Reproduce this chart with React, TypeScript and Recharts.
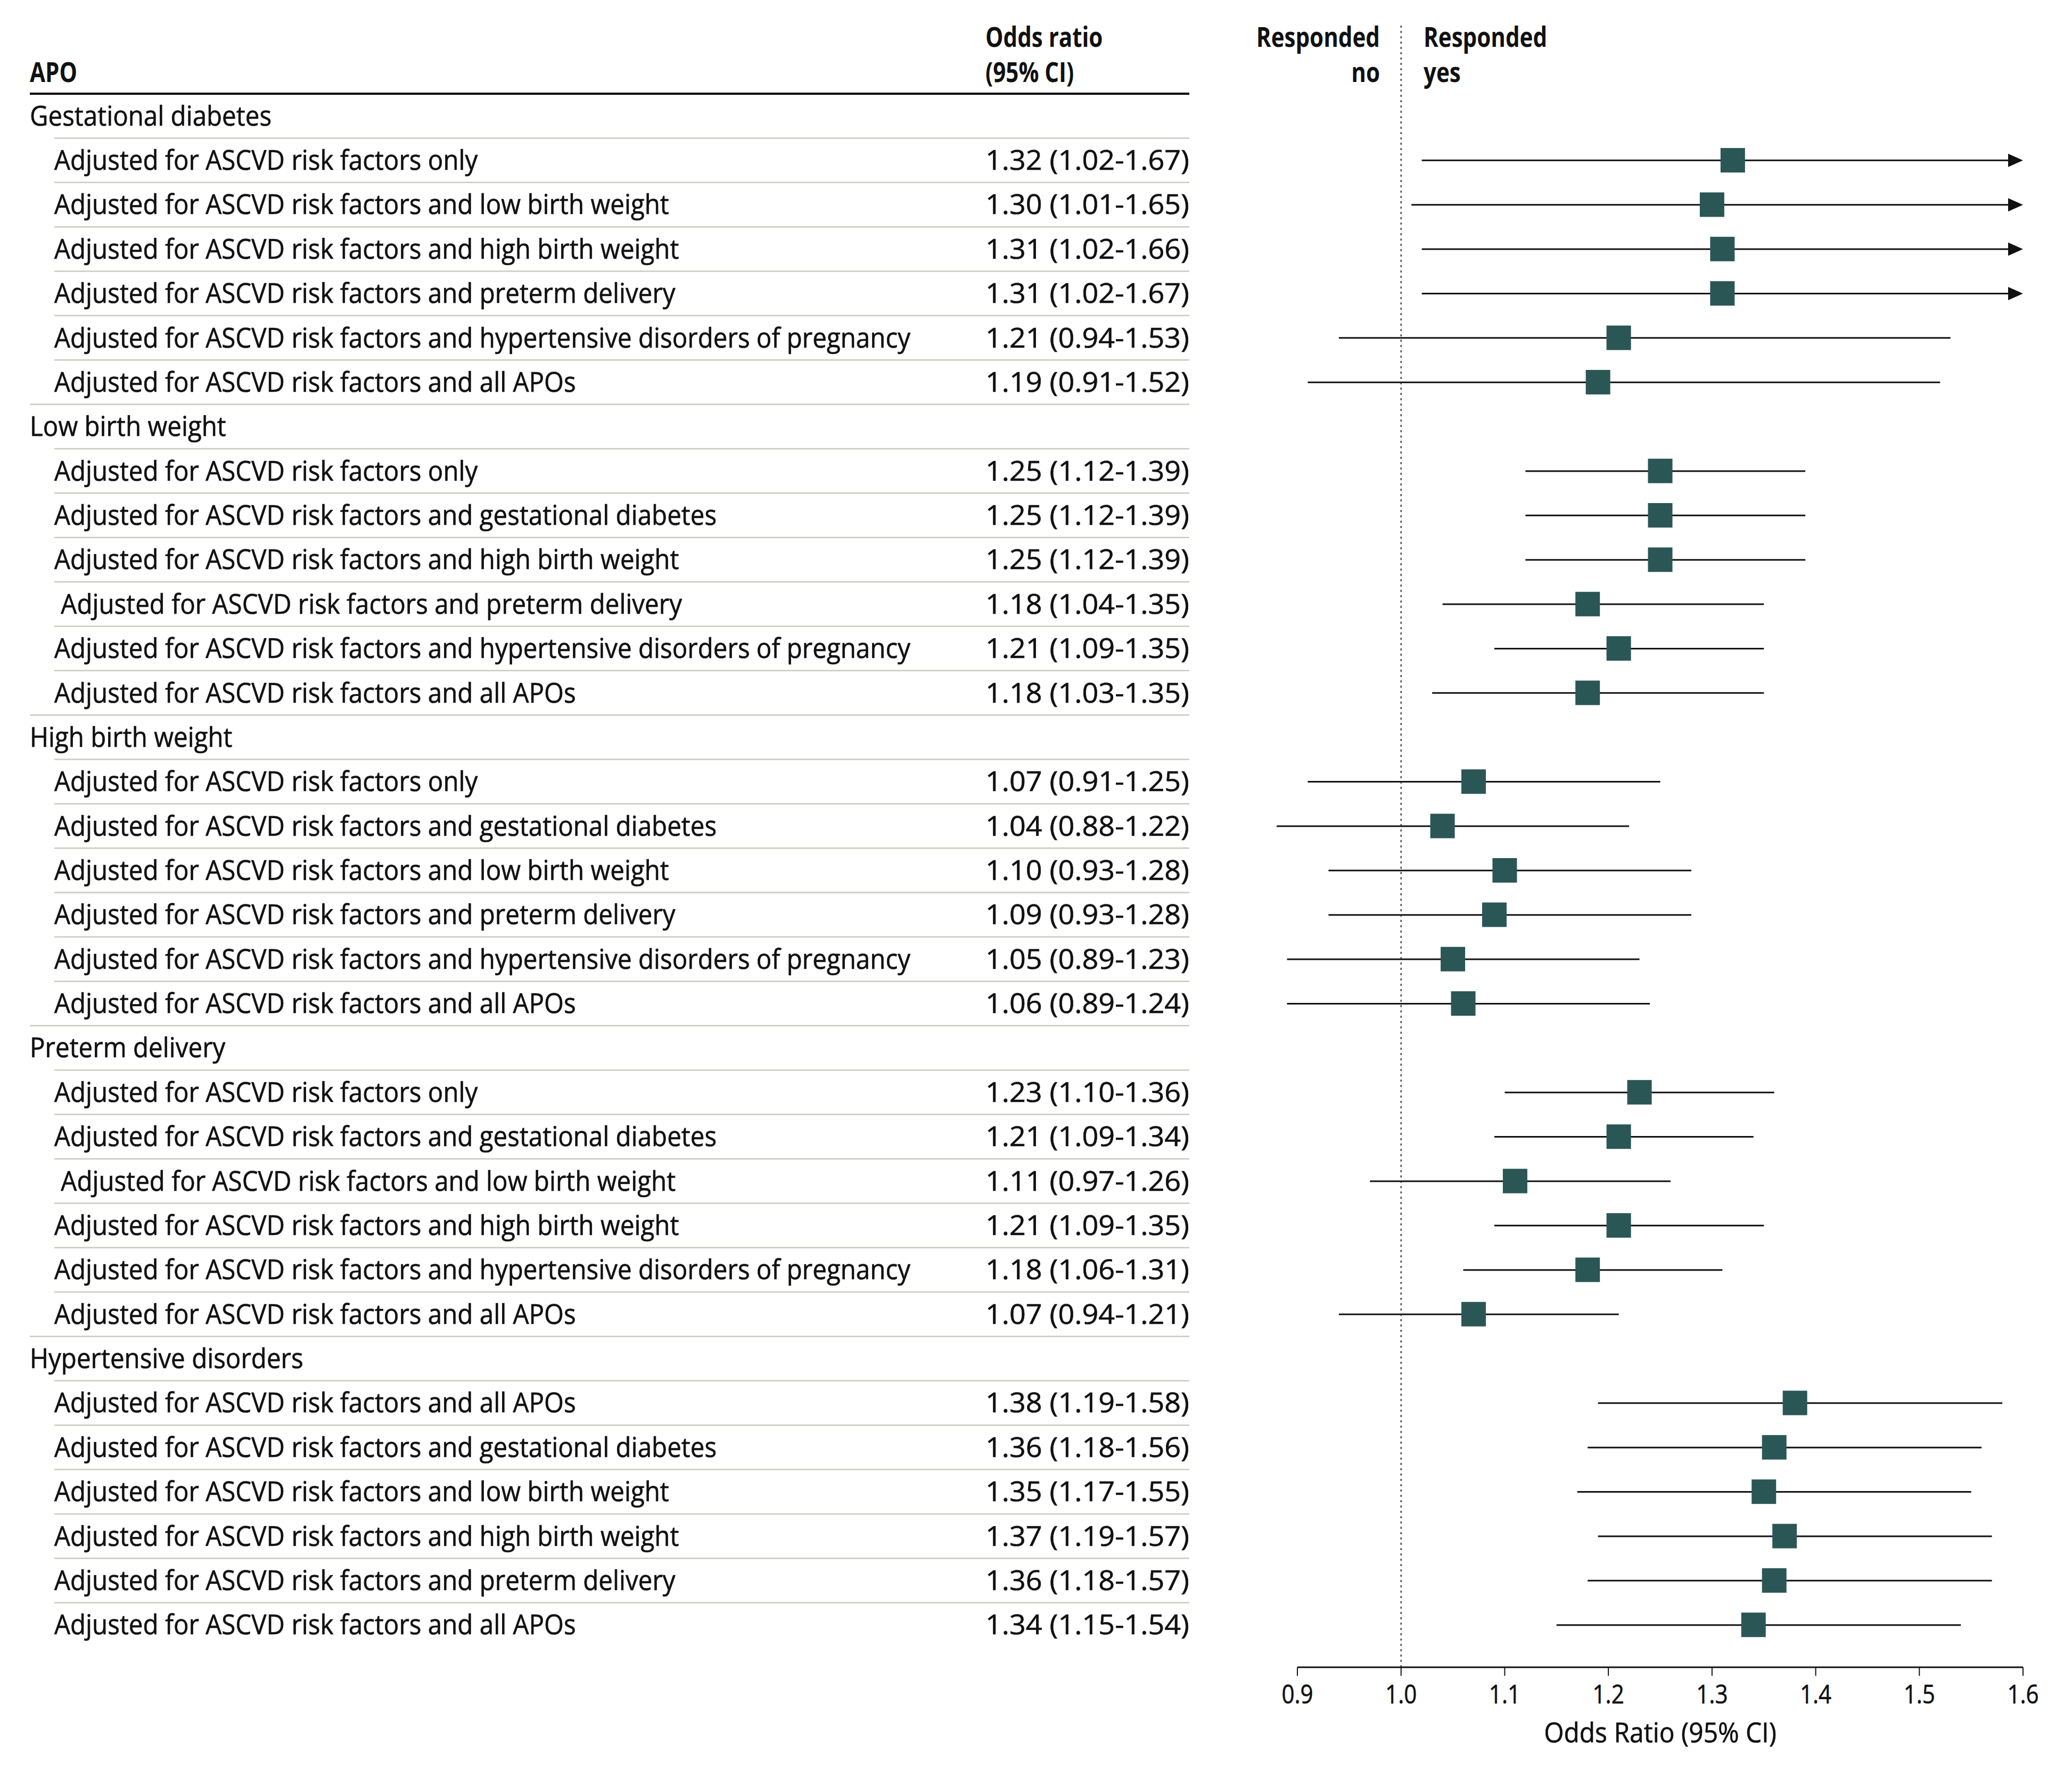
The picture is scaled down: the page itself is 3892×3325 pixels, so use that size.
import { Bar, ComposedChart, ReferenceLine, Scatter, XAxis, YAxis } from "recharts";

const groupNames = [
  "Gestational diabetes",
  "Low birth weight",
  "High birth weight",
  "Preterm delivery",
  "Hypertensive disorders",
];

const rowLabels: string[][] = [
  [
    "Adjusted for ASCVD risk factors only",
    "Adjusted for ASCVD risk factors and low birth weight",
    "Adjusted for ASCVD risk factors and high birth weight",
    "Adjusted for ASCVD risk factors and preterm delivery",
    "Adjusted for ASCVD risk factors and hypertensive disorders of pregnancy",
    "Adjusted for ASCVD risk factors and all APOs",
  ],
  [
    "Adjusted for ASCVD risk factors only",
    "Adjusted for ASCVD risk factors and gestational diabetes",
    "Adjusted for ASCVD risk factors and high birth weight",
    " Adjusted for ASCVD risk factors and preterm delivery",
    "Adjusted for ASCVD risk factors and hypertensive disorders of pregnancy",
    "Adjusted for ASCVD risk factors and all APOs",
  ],
  [
    "Adjusted for ASCVD risk factors only",
    "Adjusted for ASCVD risk factors and gestational diabetes",
    "Adjusted for ASCVD risk factors and low birth weight",
    "Adjusted for ASCVD risk factors and preterm delivery",
    "Adjusted for ASCVD risk factors and hypertensive disorders of pregnancy",
    "Adjusted for ASCVD risk factors and all APOs",
  ],
  [
    "Adjusted for ASCVD risk factors only",
    "Adjusted for ASCVD risk factors and gestational diabetes",
    " Adjusted for ASCVD risk factors and low birth weight",
    "Adjusted for ASCVD risk factors and high birth weight",
    "Adjusted for ASCVD risk factors and hypertensive disorders of pregnancy",
    "Adjusted for ASCVD risk factors and all APOs",
  ],
  [
    "Adjusted for ASCVD risk factors and all APOs",
    "Adjusted for ASCVD risk factors and gestational diabetes",
    "Adjusted for ASCVD risk factors and low birth weight",
    "Adjusted for ASCVD risk factors and high birth weight",
    "Adjusted for ASCVD risk factors and preterm delivery",
    "Adjusted for ASCVD risk factors and all APOs",
  ],
];

const oddsRatios: number[][] = [
  [1.32, 1.3, 1.31, 1.31, 1.21, 1.19],
  [1.25, 1.25, 1.25, 1.18, 1.21, 1.18],
  [1.07, 1.04, 1.1, 1.09, 1.05, 1.06],
  [1.23, 1.21, 1.11, 1.21, 1.18, 1.07],
  [1.38, 1.36, 1.35, 1.37, 1.36, 1.34],
];

const lowerCI: number[][] = [
  [1.02, 1.01, 1.02, 1.02, 0.94, 0.91],
  [1.12, 1.12, 1.12, 1.04, 1.09, 1.03],
  [0.91, 0.88, 0.93, 0.93, 0.89, 0.89],
  [1.1, 1.09, 0.97, 1.09, 1.06, 0.94],
  [1.19, 1.18, 1.17, 1.19, 1.18, 1.15],
];

const upperCI: number[][] = [
  [1.67, 1.65, 1.66, 1.67, 1.53, 1.52],
  [1.39, 1.39, 1.39, 1.35, 1.35, 1.35],
  [1.25, 1.22, 1.28, 1.28, 1.23, 1.24],
  [1.36, 1.34, 1.26, 1.35, 1.31, 1.21],
  [1.58, 1.56, 1.55, 1.57, 1.57, 1.54],
];

const xTicks = [0.9, 1.0, 1.1, 1.2, 1.3, 1.4, 1.5, 1.6];

const W = 3892;
const H = 3325;
const FONT = "'Open Sans', 'Noto Sans', sans-serif";
const SX = 0.914; // squeeze the face, original is a condensed font
const SX_BOLD = 0.81;
const INK = "#111";
const RULE = "#c8cbbd";
const BOX = "#2b5656";
const AXIS_MIN = xTicks[0];
const AXIS_MAX = xTicks[xTicks.length - 1];

// table columns
const GROUP_X = 56;
const ITEM_X = 102;
const OR_X = 1851;
const OR_W = 383;
const TABLE_R = 2234;
const ROW_H = 83.35;

type Row = {
  key: string;
  kind: "group" | "item";
  label: string;
  first?: boolean;
  or?: number;
  lo?: number;
  hi?: number;
};

const rows: Row[] = [];
groupNames.forEach((g, gi) => {
  rows.push({ key: `g${gi}`, kind: "group", label: g, first: gi === 0 });
  rowLabels[gi].forEach((label, ri) => {
    rows.push({
      key: `g${gi}r${ri}`,
      kind: "item",
      label,
      or: oddsRatios[gi][ri],
      lo: lowerCI[gi][ri],
      hi: upperCI[gi][ri],
    });
  });
});
const rowByKey = new Map(rows.map((r) => [r.key, r]));

const ciRange = (d: Row) =>
  d.kind === "item" ? [Math.max(d.lo!, AXIS_MIN), Math.min(d.hi!, AXIS_MAX)] : null;

function Txt({ x, y, children, bold, anchor = "start", size = 52, sx }: any) {
  const s = sx ?? (bold ? SX_BOLD : SX);
  return (
    <text
      transform={`translate(${x} ${y}) scale(${s} 1)`}
      textAnchor={anchor}
      fontFamily={FONT}
      fontSize={size}
      fontWeight={bold ? 700 : 400}
      fill={INK}
      stroke={bold ? "none" : INK}
      strokeWidth={0.7}
      xmlSpace="preserve"
    >
      {children}
    </text>
  );
}

function HeaderBlock({ top }: { top: number }) {
  return (
    <g>
      <line x1={GROUP_X} x2={TABLE_R} y1={top} y2={top} stroke="#000" strokeWidth={4} />
      <Txt x={GROUP_X} y={154} bold>APO</Txt>
      <Txt x={OR_X} y={88} bold>Odds ratio</Txt>
      <Txt x={OR_X} y={154} bold>(95% CI)</Txt>
      <Txt x={2592} y={88} bold anchor="end">Responded</Txt>
      <Txt x={2592} y={154} bold anchor="end">no</Txt>
      <Txt x={2674} y={88} bold>Responded</Txt>
      <Txt x={2674} y={154} bold>yes</Txt>
    </g>
  );
}

function RowTick(props: any) {
  const { y, payload } = props;
  const row = rowByKey.get(payload.value);
  if (!row) return null;
  const top = y - ROW_H / 2;
  const base = y + 18;
  return (
    <g>
      {row.first ? (
        <HeaderBlock top={top} />
      ) : (
        <line
          x1={row.kind === "group" ? GROUP_X : ITEM_X}
          x2={TABLE_R}
          y1={top}
          y2={top}
          stroke={RULE}
          strokeWidth={2.5}
        />
      )}
      {row.kind === "group" ? (
        <Txt x={GROUP_X} y={base}>{row.label}</Txt>
      ) : (
        <>
          <Txt x={ITEM_X} y={base}>{row.label}</Txt>
          <text
            x={OR_X}
            y={base}
            textLength={OR_W}
            lengthAdjust="spacingAndGlyphs"
            fontFamily={FONT}
            fontSize={52}
            fill={INK}
            stroke={INK}
            strokeWidth={0.7}
          >
            {`${row.or!.toFixed(2)} (${row.lo!.toFixed(2)}-${row.hi!.toFixed(2)})`}
          </text>
        </>
      )}
    </g>
  );
}

function CiShape(props: any) {
  const { x, y, width, height, payload } = props;
  if (!payload || payload.kind !== "item" || !Number.isFinite(width)) return <g />;
  const a = Math.max(payload.lo, AXIS_MIN);
  const b = Math.min(payload.hi, AXIS_MAX);
  const ppu = width / (b - a);
  const x1 = x - (a - payload.lo) * ppu;
  const x2 = x + width;
  const cy = y + height / 2;
  const clipped = payload.hi > AXIS_MAX;
  return (
    <g>
      <line x1={x1} x2={clipped ? x2 - 20 : x2} y1={cy} y2={cy} stroke={INK} strokeWidth={3} />
      {clipped && (
        <polygon points={`${x2},${cy} ${x2 - 28},${cy - 12.5} ${x2 - 28},${cy + 12.5}`} fill={INK} />
      )}
    </g>
  );
}

function BoxMark(props: any) {
  const { cx, cy } = props;
  if (cx == null || cy == null || !Number.isFinite(cx)) return <g />;
  return <rect x={cx - 23} y={cy - 23} width={46} height={46} fill={BOX} />;
}

function AxisTick(props: any) {
  const { x, y, payload } = props;
  return (
    <Txt x={x} y={y + 50} anchor="middle" size={49} sx={0.86}>
      {Number(payload.value).toFixed(1)}
    </Txt>
  );
}

function AxisTitle(props: any) {
  const vb = props.viewBox || {};
  return (
    <Txt x={vb.x + vb.width / 2} y={vb.y + 141} anchor="middle" size={51} sx={0.94}>
      Odds Ratio (95% CI)
    </Txt>
  );
}

export default function App() {
  return (
    <div style={{ position: "absolute", left: 0, top: 0, width: W, height: H, background: "#fff" }}>
      <ComposedChart
        width={W}
        height={H}
        data={rows}
        layout="vertical"
        margin={{ top: 48, right: 92, bottom: 0, left: 0 }}
      >
        <XAxis
          type="number"
          dataKey="or"
          domain={[AXIS_MIN, AXIS_MAX]}
          ticks={xTicks}
          interval={0}
          height={193}
          tickSize={16}
          tick={<AxisTick />}
          axisLine={{ stroke: INK, strokeWidth: 3 }}
          tickLine={{ stroke: INK, strokeWidth: 2 }}
          label={<AxisTitle />}
        />
        <YAxis
          type="category"
          dataKey="key"
          width={2437}
          interval={0}
          padding={{ top: 128, bottom: 38 }}
          axisLine={false}
          tickLine={false}
          tick={<RowTick />}
        />
        <ReferenceLine x={1} stroke="#222" strokeWidth={2} strokeDasharray="4 6" />
        <Bar dataKey={ciRange} barSize={4} shape={(p: any) => <CiShape {...p} />} isAnimationActive={false} />
        <Scatter shape={(p: any) => <BoxMark {...p} />} isAnimationActive={false} />
      </ComposedChart>
    </div>
  );
}
